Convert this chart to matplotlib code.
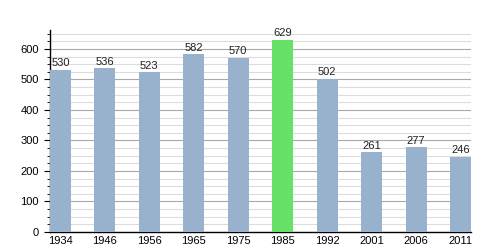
import numpy as np
import matplotlib.pyplot as plt
from matplotlib.ticker import MultipleLocator

plt.rcParams["font.family"] = ["Liberation Sans", "DejaVu Sans"]

# Population by census year
years = ["1934", "1946", "1956", "1965", "1975", "1985", "1992", "2001", "2006", "2011"]
population = [530, 536, 523, 582, 570, 629, 502, 261, 277, 246]
highlight = "1985"

bar_color = "#98b1cc"
peak_color = "#66e066"

fig = plt.figure(figsize=(5, 2.5), dpi=100)
ax = fig.add_axes([0.1, 0.072, 0.842, 0.808])

x = np.arange(len(years))
colors = [peak_color if y == highlight else bar_color for y in years]
bars = ax.bar(x, population, width=0.47, color=colors, zorder=3)

for xi, v in zip(x, population):
    ax.text(xi, v + 6, str(v), ha="center", va="bottom", fontsize=8, color="#222222", zorder=4)

ax.set_xlim(-0.236, len(years) - 1 + 0.236)
ax.set_ylim(0, 662)
ax.set_xticks(x)
ax.set_xticklabels(years)
ax.yaxis.set_major_locator(MultipleLocator(100))
ax.yaxis.set_minor_locator(MultipleLocator(25))

ax.grid(which="major", axis="y", color="#a8a8a8", linewidth=0.8, zorder=0)
ax.grid(which="minor", axis="y", color="#dcdcdc", linewidth=0.8, zorder=0)

for side in ["top", "right"]:
    ax.spines[side].set_visible(False)
ax.spines["left"].set_linewidth(1.0)
ax.spines["bottom"].set_linewidth(1.0)

ax.tick_params(axis="x", length=0, labelsize=8, pad=3)
ax.tick_params(axis="y", which="major", length=4, labelsize=8, pad=4)
ax.tick_params(axis="y", which="minor", length=2.5)

fig.savefig("out.png", dpi=100)
